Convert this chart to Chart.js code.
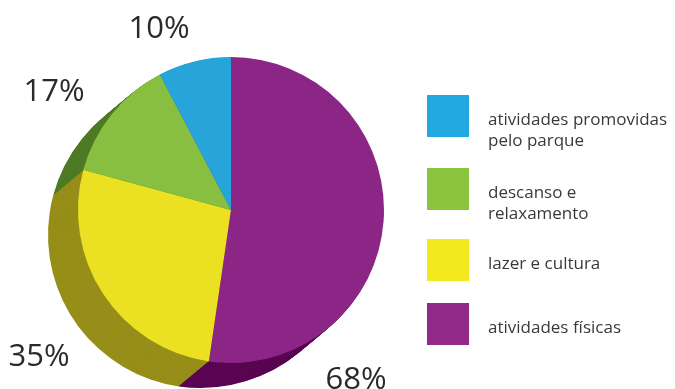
<!DOCTYPE html>
<html>
<head>
<meta charset="utf-8">
<script src="https://cdn.jsdelivr.net/npm/chart.js@4/dist/chart.umd.min.js"></script>
<style>
  html, body { margin: 0; padding: 0; background: #fff; }
  #wrap { width: 675px; height: 389px; position: relative; }
</style>
</head>
<body>
<div id="wrap"><canvas id="pie"></canvas></div>
<script>
'use strict';

// slices go clockwise from the top, legend lists them the other way round
var categories = [
    ['atividades físicas'],
    ['lazer e cultura'],
    ['descanso e', 'relaxamento'],
    ['atividades promovidas', 'pelo parque']
];
var values = [68, 35, 17, 10];
var topColors = ['#8c2686', '#ebe122', '#89bf40', '#27a4d9'];
var sideColors = ['#5a0552', '#968e18', '#4e7a24', '#1c6f95'];
var legendColors = ['#922a8a', '#f2e91e', '#8bc540', '#22a8e0'];

// where each percentage sits, relative to the pie centre
var labelOffsets = [[125, 170], [-192, 147], [-177, -118], [-72, -181]];

var depth = { x: -30, y: 25 };
var textColor = '#2b2a29';
var font = '"Open Sans", sans-serif';

// darker copies of the slices swept down-left to fake the pie's thickness
var extrude = {
    id: 'extrude',
    beforeDatasetsDraw: function (chart) {
        var ctx = chart.ctx;
        var arcs = chart.getDatasetMeta(0).data;
        for (var s = 30; s >= 1; s--) {
            var t = s / 30;
            arcs.forEach(function (arc, i) {
                var p = arc.getProps(['x', 'y', 'startAngle', 'endAngle', 'outerRadius']);
                ctx.save();
                ctx.translate(depth.x * t, depth.y * t);
                ctx.beginPath();
                ctx.moveTo(p.x, p.y);
                ctx.arc(p.x, p.y, p.outerRadius, p.startAngle, p.endAngle);
                ctx.closePath();
                ctx.fillStyle = sideColors[i];
                ctx.fill();
                ctx.restore();
            });
        }
    }
};

var texts = {
    id: 'texts',
    afterDraw: function (chart) {
        var ctx = chart.ctx;
        var arcs = chart.getDatasetMeta(0).data;

        ctx.save();
        ctx.fillStyle = textColor;
        ctx.font = '31px ' + font;
        ctx.textAlign = 'center';
        ctx.textBaseline = 'middle';
        arcs.forEach(function (arc, i) {
            var p = arc.getProps(['x', 'y']);
            ctx.fillText(values[i] + '%', p.x + labelOffsets[i][0], p.y + labelOffsets[i][1]);
        });
        ctx.restore();

        // legend, blue on top
        var boxX = 427, boxSize = 42;
        var tops = [95, 168, 239, 303];
        ctx.save();
        ctx.font = '17px ' + font;
        ctx.textAlign = 'left';
        ctx.textBaseline = 'alphabetic';
        for (var row = 0; row < categories.length; row++) {
            var i = categories.length - 1 - row;
            ctx.fillStyle = legendColors[i];
            ctx.fillRect(boxX, tops[row], boxSize, boxSize);
            ctx.fillStyle = '#3a3939';
            categories[i].forEach(function (line, n) {
                ctx.fillText(line, 488, tops[row] + boxSize / 2 + 9 + n * 21);
            });
        }
        ctx.restore();
    }
};

new Chart(document.getElementById('pie'), {
    type: 'pie',
    data: {
        labels: categories,
        datasets: [{
            data: values,
            backgroundColor: topColors,
            borderWidth: 0
        }]
    },
    options: {
        responsive: true,
        maintainAspectRatio: false,
        animation: false,
        events: [],
        layout: {
            padding: { left: 78, right: 291, top: 57, bottom: 26 }
        },
        plugins: {
            legend: { display: false },
            tooltip: { enabled: false }
        }
    },
    plugins: [extrude, texts]
});
</script>
</body>
</html>
